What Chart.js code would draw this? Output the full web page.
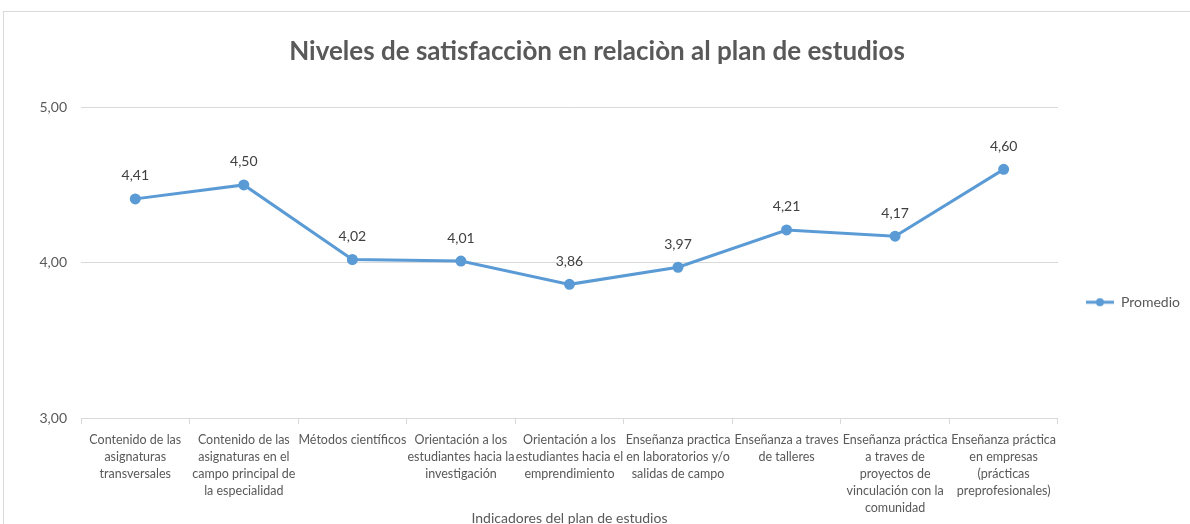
<!DOCTYPE html>
<html>
<head>
<meta charset="utf-8">
<script src="https://cdn.jsdelivr.net/npm/chart.js@4"></script>
<style>
    body { margin: 0; background: #fff; overflow: hidden; }
    #frame { position: absolute; left: 3px; top: 11px; width: 1200px; height: 540px; border: 1px solid #d9d9d9; }
    #wrap { position: absolute; left: 0; top: 0; width: 1186px; height: 512px; }
</style>
</head>
<body>
<div id="frame"><div id="wrap"><canvas id="lineChart"></canvas></div></div>
<script>
var indicators = [
    ['Contenido de las', 'asignaturas', 'transversales'],
    ['Contenido de las', 'asignaturas en el', 'campo principal de', 'la especialidad'],
    ['Métodos científicos'],
    ['Orientación a los', 'estudiantes hacia la', 'investigación'],
    ['Orientación a los', 'estudiantes hacia el', 'emprendimiento'],
    ['Enseñanza practica', 'en laboratorios y/o', 'salidas de campo'],
    ['Enseñanza a traves', 'de talleres'],
    ['Enseñanza práctica', 'a traves de', 'proyectos de', 'vinculación con la', 'comunidad'],
    ['Enseñanza práctica', 'en empresas', '(prácticas', 'preprofesionales)']
];
var promedio = [4.41, 4.50, 4.02, 4.01, 3.86, 3.97, 4.21, 4.17, 4.60];
var yTicks = [3, 4, 5];

var blue = '#5B9BD5';
var grey = '#595959';
var gridGrey = '#d9d9d9';
var font = "Lato, 'Liberation Sans', sans-serif";

function fmt(v) {
    return v.toFixed(2).replace('.', ',');
}

// legend marker: line with a dot in the middle
var marker = document.createElement('canvas');
marker.width = 28;
marker.height = 10;
(function () {
    var c = marker.getContext('2d');
    c.strokeStyle = blue;
    c.lineWidth = 3;
    c.beginPath();
    c.moveTo(0, 5);
    c.lineTo(28, 5);
    c.stroke();
    c.fillStyle = blue;
    c.beginPath();
    c.arc(14, 5, 4, 0, Math.PI * 2);
    c.fill();
})();

var valueLabels = {
    id: 'valueLabels',
    afterDatasetsDraw: function (chart) {
        var ctx = chart.ctx;
        var meta = chart.getDatasetMeta(0);
        ctx.save();
        ctx.font = '14px ' + font;
        ctx.fillStyle = '#404040';
        ctx.textAlign = 'center';
        ctx.textBaseline = 'middle';
        meta.data.forEach(function (pt, i) {
            ctx.fillText(fmt(promedio[i]), pt.x, pt.y - 23);
        });
        ctx.restore();
    }
};

var ctx = document.getElementById('lineChart').getContext('2d');
var lineChart = new Chart(ctx, {
    type: 'line',
    data: {
        labels: indicators,
        datasets: [{
            label: 'Promedio',
            data: promedio,
            borderColor: blue,
            backgroundColor: blue,
            borderWidth: 3,
            pointRadius: 4,
            pointHoverRadius: 4,
            tension: 0
        }]
    },
    options: {
        responsive: true,
        maintainAspectRatio: false,
        animation: false,
        layout: { padding: { left: 0, right: 0, top: 0, bottom: 0 } },
        plugins: {
            title: {
                display: true,
                text: 'Niveles de satisfacciòn en relaciòn al plan de estudios',
                color: grey,
                font: { family: font, size: 26, weight: 'bold' },
                padding: { top: 24, bottom: 40 }
            },
            legend: {
                position: 'right',
                title: { display: true, text: ' ', font: { size: 2 }, padding: { top: 33, bottom: 33 } },
                labels: {
                    usePointStyle: true,
                    pointStyle: marker,
                    pointStyleWidth: 28,
                    color: grey,
                    font: { family: font, size: 14 },
                    padding: 28
                }
            },
            tooltip: { enabled: false }
        },
        scales: {
            x: {
                offset: true,
                grid: { display: true, drawOnChartArea: false, drawTicks: true, tickLength: 6, color: gridGrey, offset: true },
                border: { display: true, color: gridGrey },
                ticks: { color: grey, font: { family: font, size: 12.5, lineHeight: 1.37 }, maxRotation: 0, autoSkip: false, padding: 7 },
                title: {
                    display: true,
                    text: 'Indicadores del plan de estudios',
                    color: grey,
                    font: { family: font, size: 14 },
                    padding: { top: 0, bottom: -3 }
                },
                afterFit: function (scale) { scale.height = 106; }
            },
            y: {
                min: 3,
                max: 5,
                afterBuildTicks: function (scale) {
                    scale.ticks = yTicks.map(function (v) { return { value: v }; });
                },
                grid: { color: gridGrey, drawTicks: false },
                border: { display: false },
                ticks: {
                    color: grey,
                    font: { family: font, size: 14 },
                    padding: 14,
                    callback: function (v) { return fmt(v); }
                },
                afterFit: function (scale) { scale.width = 77; }
            }
        }
    },
    plugins: [valueLabels]
});
</script>
</body>
</html>
